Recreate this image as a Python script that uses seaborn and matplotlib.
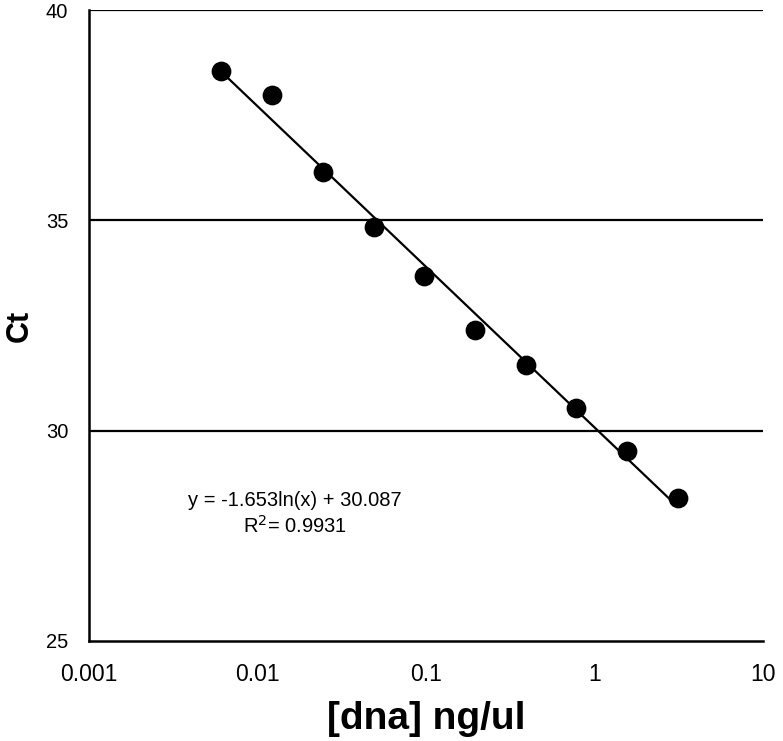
import numpy as np
import pandas as pd
import matplotlib
matplotlib.use("Agg")
import matplotlib.pyplot as plt
import seaborn as sns

dna = [0.0061, 0.0122, 0.0244, 0.0488, 0.0977, 0.195, 0.39, 0.78, 1.5625, 3.125]
ct = [38.55, 37.98, 36.14, 34.83, 33.68, 32.40, 31.55, 30.55, 29.52, 28.40]
xticks = [0.001, 0.01, 0.1, 1, 10]
xticklabels = ["0.001", "0.01", "0.1", "1", "10"]
yticks = [25, 30, 35, 40]

sns.set_theme(style="white")
plt.rcParams['font.family'] = ['Liberation Sans', 'DejaVu Sans']
plt.rcParams['text.color'] = 'black'
plt.rcParams['axes.labelcolor'] = 'black'
plt.rcParams['xtick.color'] = 'black'
plt.rcParams['ytick.color'] = 'black'

df = pd.DataFrame({"dna": dna, "ct": ct})

fig = plt.figure(figsize=(7.83, 7.41), dpi=100)
ax = fig.add_axes([0.1137, 0.135, 0.8608, 0.8515])

for yv in yticks[1:]:
    ax.axhline(yv, color="black", lw=1.6, zorder=1)

sns.regplot(data=df, x="dna", y="ct", logx=True, ci=None, ax=ax,
            scatter_kws=dict(s=175, color="black", edgecolor="black", alpha=1, zorder=3),
            line_kws=dict(color="black", lw=1.6, zorder=2))

ax.set_xscale("log")
ax.set_xlim(0.001, 10)
ax.set_ylim(25, 40)
ax.set_xticks(xticks)
ax.set_xticklabels(xticklabels, fontsize=16.5)
ax.set_yticks(yticks)
ax.set_yticklabels([str(v) for v in yticks], fontsize=14.5)
ax.minorticks_off()
ax.tick_params(axis="both", length=0)
ax.tick_params(axis="x", pad=16)
ax.tick_params(axis="y", pad=15)

for s in ["top", "right"]:
    ax.spines[s].set_visible(False)
for s in ["left", "bottom"]:
    ax.spines[s].set_color("black")
    ax.spines[s].set_linewidth(1.8)

ax.set_xlabel("[dna] ng/ul", fontsize=28, fontweight="bold", labelpad=11)
ax.set_ylabel("Ct", fontsize=22, fontweight="bold", labelpad=8)

ax.text(0.0167, 28.35, "y = -1.653ln(x) + 30.087", fontsize=14.5, ha="center", va="center")
ax.text(0.0167, 27.73, "R$^2$= 0.9931", fontsize=14.5, ha="center", va="center")

fig.savefig("out.png", dpi=100)
